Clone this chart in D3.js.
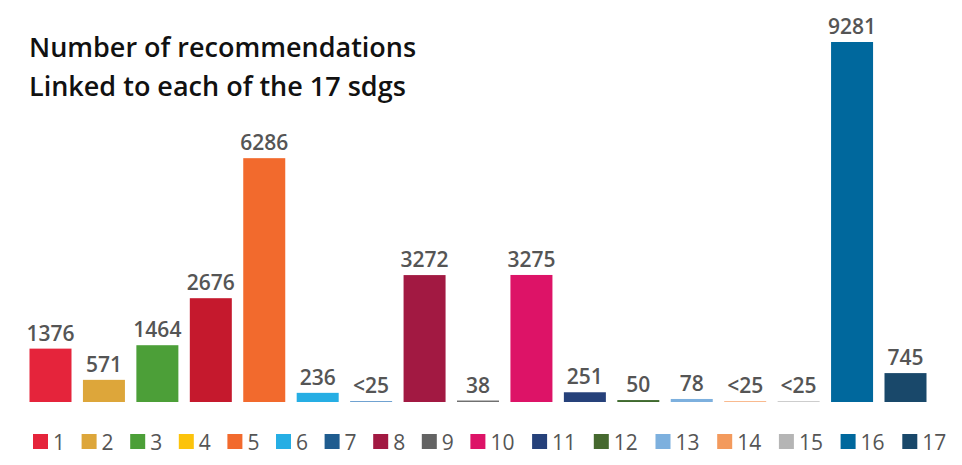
<!DOCTYPE html>
<html>
<head>
<meta charset="utf-8">
<script src="https://cdn.jsdelivr.net/npm/d3@7/dist/d3.min.js"></script>
<style>
  html, body { margin: 0; padding: 0; background: #fff; }
  svg { display: block; font-family: "Open Sans", "Noto Sans", sans-serif; }
</style>
</head>
<body>
<svg id="chart" width="962" height="465"></svg>
<script>
const categories = ["1","2","3","4","5","6","7","8","9","10","11","12","13","14","15","16","17"];
const values = [1376, 571, 1464, 2676, 6286, 236, 25, 3272, 38, 3275, 251, 50, 78, 25, 25, 9281, 745];
const valueLabels = ["1376","571","1464","2676","6286","236","<25","3272","38","3275","251","50","78","<25","<25","9281","745"];
const barColors = ["#E5243B","#DDA63A","#4C9F38","#C5192D","#F26A2D","#26AEE4","#6C9FD0","#A21942","#707070","#DD1367","#26417A","#3F6A2E","#7DB0DE","#F9B88C","#CCCCCC","#00689D","#19486A"];
const legendColors = ["#E5243B","#DDA63A","#4C9F38","#FCC30B","#F26A2D","#26AEE4","#1F5C8F","#A21942","#636363","#DD1367","#26417A","#46692F","#7DB0DE","#F39A5D","#B5B5B5","#00689D","#19486A"];
const titleLines = ["Number of recommendations", "Linked to each of the 17 sdgs"];

const svg = d3.select("#chart");

const x = d3.scaleBand().domain(categories).range([29.5, 926.5]).paddingInner(0.214).paddingOuter(0);
const y = d3.scaleLinear().domain([0, 9281]).range([402, 42]);

// title
svg.append("g").selectAll("text").data(titleLines).join("text")
  .attr("x", 29)
  .attr("y", (d, i) => 57 + i * 39)
  .attr("font-size", 27)
  .attr("font-weight", 600)
  .attr("fill", "#111")
  .text(d => d);

const data = categories.map((c, i) => ({c, v: values[i], label: valueLabels[i], color: barColors[i]}));

svg.append("g").selectAll("rect").data(data).join("rect")
  .attr("x", d => x(d.c))
  .attr("width", x.bandwidth())
  .attr("y", d => y(d.v))
  .attr("height", d => y(0) - y(d.v))
  .attr("fill", d => d.color);

svg.append("g").selectAll("text").data(data).join("text")
  .attr("x", d => x(d.c) + x.bandwidth() / 2)
  .attr("y", d => y(d.v) - 8)
  .attr("text-anchor", "middle")
  .attr("font-size", 21)
  .attr("font-weight", 600)
  .attr("fill", "#555")
  .text(d => d.label);

// legend
const legend = svg.append("g");
let lx = 33;
categories.forEach((c, i) => {
  const g = legend.append("g").attr("transform", `translate(${lx},0)`);
  g.append("rect").attr("x", 0).attr("y", 434).attr("width", 15).attr("height", 15).attr("fill", legendColors[i]);
  g.append("text").attr("x", 20).attr("y", 449.5)
    .attr("font-size", 21).attr("font-weight", 400).attr("fill", "#555").text(c);
  lx += 35.5 + 13.1 * c.length;
});
</script>
</body>
</html>
